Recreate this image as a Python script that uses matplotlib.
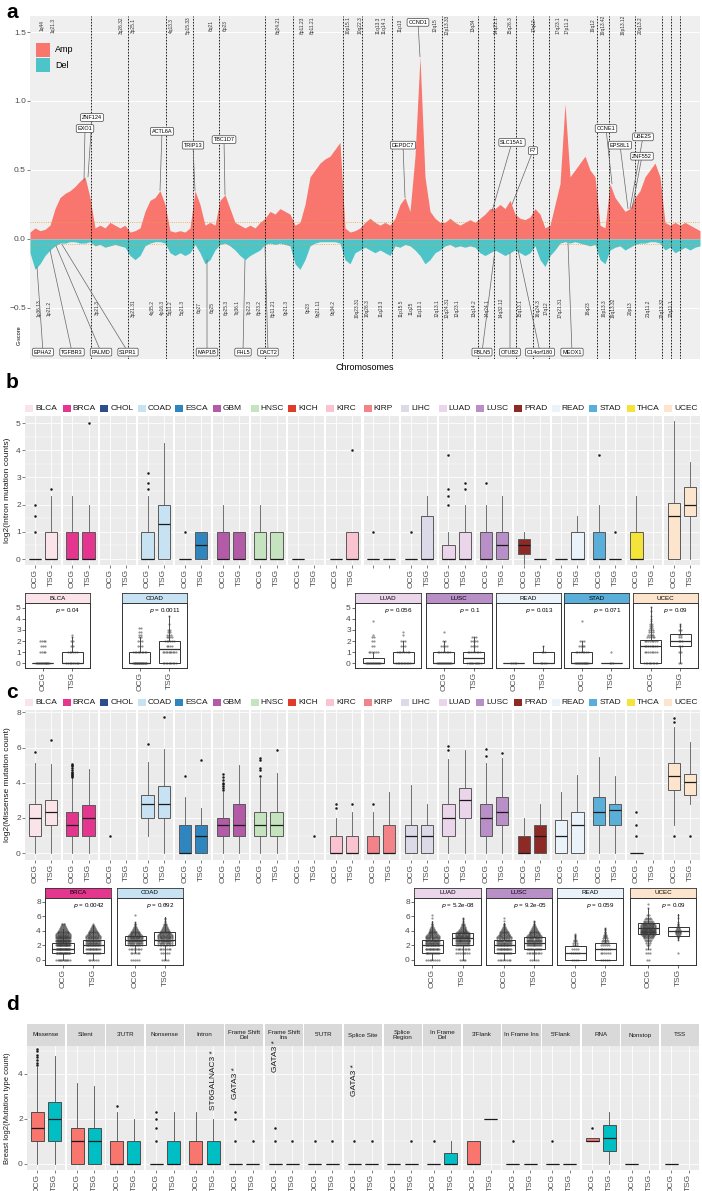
import numpy as np
import matplotlib.pyplot as plt
from matplotlib.patches import Rectangle

plt.rcParams['font.family'] = ['Liberation Sans', 'DejaVu Sans']
plt.rcParams['axes.linewidth'] = 0.6

W, H = 702, 1191

# ---------------- panel a : G-score profile (genome bins, 5 units each) ----------------
genome_start = 30
bin_step = 5
chrom_edges = [91, 128, 166, 193, 219, 265, 293, 343, 362, 392, 442, 478, 494, 516,
               533, 549, 597, 609, 635, 662, 671, 680]
amp_gscore = [0.05, 0.08, 0.06, 0.07, 0.10, 0.22, 0.30, 0.33, 0.35, 0.38, 0.42, 0.45, 0.30,
              0.08, 0.10, 0.08, 0.12, 0.10, 0.08, 0.10,
              0.05, 0.06, 0.08, 0.20, 0.28, 0.30, 0.35, 0.25,
              0.06, 0.05, 0.06, 0.05, 0.08,
              0.35, 0.25, 0.10, 0.12, 0.10,
              0.28, 0.32, 0.22, 0.12, 0.10, 0.08, 0.10, 0.08, 0.12,
              0.15, 0.20, 0.18, 0.22, 0.20, 0.18,
              0.10, 0.12, 0.25, 0.45, 0.50, 0.55, 0.58, 0.60, 0.65, 0.70,
              0.08, 0.05, 0.06, 0.08,
              0.12, 0.15, 0.12, 0.10, 0.12, 0.10,
              0.15, 0.25, 0.30, 0.20, 0.60, 1.32, 0.45, 0.20, 0.15, 0.12,
              0.12, 0.15, 0.12, 0.10, 0.12, 0.14, 0.12,
              0.15, 0.18, 0.22,
              0.22, 0.25, 0.22, 0.28, 0.18,
              0.15, 0.14, 0.16,
              0.22, 0.18, 0.08,
              0.10, 0.25, 0.40, 0.98, 0.45, 0.50, 0.55, 0.60, 0.50, 0.45,
              0.10, 0.08,
              0.40, 0.30, 0.25, 0.20, 0.22,
              0.30, 0.35, 0.45, 0.50, 0.55, 0.45,
              0.12, 0.10, 0.12, 0.10, 0.12, 0.10, 0.08, 0.06]
del_gscore = [-0.10, -0.22, -0.18, -0.12, -0.08, -0.05, -0.03, -0.03, -0.02, -0.02, -0.03, -0.03, -0.02,
              -0.05, -0.04, -0.06, -0.05, -0.04, -0.05, -0.06,
              -0.12, -0.15, -0.12, -0.05, -0.03, -0.02, -0.02, -0.03,
              -0.10, -0.12, -0.10, -0.12, -0.10,
              -0.04, -0.10, -0.18, -0.15, -0.08,
              -0.04, -0.03, -0.05, -0.08, -0.12, -0.15, -0.12, -0.10, -0.08,
              -0.04, -0.03, -0.04, -0.03, -0.04, -0.05,
              -0.18, -0.22, -0.15, -0.05, -0.03, -0.02, -0.02, -0.02, -0.02, -0.03,
              -0.15, -0.18, -0.10, -0.08,
              -0.06, -0.08, -0.10, -0.08, -0.10, -0.12,
              -0.05, -0.06, -0.04, -0.05, -0.08, -0.12, -0.18, -0.15, -0.10, -0.08,
              -0.05, -0.04, -0.06, -0.05, -0.06, -0.05, -0.06,
              -0.10, -0.12, -0.10,
              -0.08, -0.10, -0.12, -0.10, -0.08,
              -0.10, -0.12, -0.10,
              -0.05, -0.15, -0.20,
              -0.12, -0.08, -0.03, -0.02, -0.03, -0.02, -0.03, -0.04, -0.05, -0.04,
              -0.15, -0.18,
              -0.08, -0.06, -0.05, -0.08, -0.06,
              -0.04, -0.03, -0.03, -0.02, -0.02, -0.03,
              -0.08, -0.06, -0.10, -0.08, -0.06, -0.08, -0.06, -0.05]

amp_bands = ['1q44', '1q21.3', '3q26.32', '3p25.1', '4q13.3', '5p15.33', '6q21', '6p23',
             '8q24.21', '8p11.23', '8p11.21', '10p15.1', '10q22.3', '11q13.3', '11q14.1',
             '11p13', '12q15', '12p13.33', '13q34', '14q21.1', '15q26.3', '17q12', '17q23.1',
             '17p11.2', '19q12', '19q13.42', '19p13.12', '20q13.2']
amp_band_x = [42, 53, 121, 133, 171, 188, 211, 225, 278, 302, 312, 348, 360, 378, 384,
              400, 435, 447, 473, 496, 510, 534, 558, 567, 593, 603, 623, 640]
del_bands = ['1p36.13', '1p21.2', '3p21.3', '3p21.31', '4q35.2', '4p16.3', '5q11.2', '5q21.3',
             '6q27', '6q25', '6p25.3', '7q36.1', '7p22.3', '8p23.2', '8p11.21', '9p21.3', '9p23',
             '9q21.11', '9q34.2', '10q23.31', '10q26.3', '11q23.3', '11p15.5', '11q25', '11q13.1',
             '12q13.1', '12q24.31', '12q23.1', '13q14.2', '14q24.1', '14q32.12', '15q13.1',
             '16q24.3', '17q12', '17q21.31', '18q23', '19p13.3', '19q13.32', '20p13', '21q11.2',
             '22q13.32', '22q11.1']
del_band_x = [39, 49, 97, 133, 152, 162, 170, 182, 199, 212, 226, 237, 249, 259, 273, 286, 308,
              318, 333, 357, 367, 381, 401, 411, 420, 437, 447, 457, 474, 487, 501, 520, 538,
              546, 560, 588, 604, 613, 630, 648, 662, 671]

amp_genes = ['ZNF124', 'EXO1', 'ACTL6A', 'TRIP13', 'TBC1D7', 'DEPDC7', 'CCND1', 'SLC15A1',
             'F7', 'CCNE1', 'EPS8L1', 'UBE2S', 'ZNF552']
amp_gene_lx = [92, 85, 162, 193, 224, 403, 418, 512, 533, 606, 620, 643, 642]
amp_gene_ly = [0.88, 0.80, 0.78, 0.68, 0.72, 0.68, 1.57, 0.70, 0.64, 0.80, 0.68, 0.74, 0.60]
amp_gene_tx = [88, 84, 160, 195, 225, 405, 420, 492, 512, 612, 628, 630, 632]
amp_gene_ty = [0.45, 0.42, 0.35, 0.35, 0.32, 0.30, 1.32, 0.20, 0.25, 0.40, 0.22, 0.22, 0.22]
del_genes = ['EPHA2', 'TGFBR3', 'PALMD', 'S1PR1', 'MAP1B', 'FHL5', 'DACT2', 'FBLN5', 'OTUB2',
             'C14orf180', 'MEOX1']
del_gene_lx = [43, 72, 101, 128, 207, 243, 268, 482, 510, 540, 572]
del_gene_tx = [37, 50, 56, 62, 207, 245, 265, 495, 510, 518, 568]
del_gene_ty = [-0.20, -0.08, -0.05, -0.04, -0.15, -0.15, -0.05, -0.08, -0.10, -0.08, -0.03]

# ---------------- panels b / c : cancers ----------------
cancers = ['BLCA', 'BRCA', 'CHOL', 'COAD', 'ESCA', 'GBM', 'HNSC', 'KICH', 'KIRC', 'KIRP',
           'LIHC', 'LUAD', 'LUSC', 'PRAD', 'READ', 'STAD', 'THCA', 'UCEC']
cancer_colors = ['#FBE3EA', '#E4358F', '#2D4E8A', '#C7E3F3', '#2F86BF', '#B45BA8', '#C6E3BF',
                 '#E13B2C', '#F9C4CF', '#F18389', '#DCDAE9', '#EBD5EB', '#B88FC7', '#8E2A25',
                 '#EAF3F9', '#5AAFDA', '#F4E439', '#FDE5CD']

# box stats: (whisker low, q1, median, q3, whisker high)
b_ocg_box = [(0, 0, 0, 0, 0), (0, 0, 0, 1, 2.32), None, (0, 0, 0, 1, 2.32), (0, 0, 0, 0, 0),
             (0, 0, 0, 1, 2), (0, 0, 0, 1, 2), (0, 0, 0, 0, 0), (0, 0, 0, 0, 0), (0, 0, 0, 0, 0),
             (0, 0, 0, 0, 0), (0, 0, 0, 0.5, 1), (0, 0, 0, 1, 2), (-0.2, 0.2, 0.5, 0.75, 1),
             (0, 0, 0, 0, 0), (0, 0, 0, 1, 2), (0, 0, 0, 1, 2.32), (0, 0, 1.58, 2.07, 5.06)]
b_ocg_out = [[1, 1.58, 2], [], [], [2.58, 2.81, 3.17], [1], [], [], [], [], [1], [1],
             [2, 2.32, 2.58, 3.81], [2.81], [], [], [3.81], [], []]
b_tsg_box = [(0, 0, 0, 1, 2.32), (0, 0, 0, 1, 2), None, (0, 0, 1.29, 2, 4.25), (0, 0, 0.5, 1, 1),
             (0, 0, 0, 1, 1), (0, 0, 0, 1, 1), None, (0, 0, 0, 1, 1), (0, 0, 0, 0, 0),
             (0, 0, 0, 1.58, 2.32), (0, 0, 0, 1, 2), (0, 0, 0.5, 1, 2.32), (0, 0, 0, 0, 0),
             (0, 0, 0, 1, 1.58), (0, 0, 0, 0, 0), None, (0, 1.58, 2, 2.64, 3.58)]
b_tsg_out = [[2.58], [5], [], [], [], [], [], [], [4], [], [], [2.58, 2.81], [], [], [], [1], [], []]

c_ocg_box = [(0, 1, 2, 2.81, 5.1), (0, 1, 1.58, 2.32, 4.25), None, (1, 2, 2.81, 3.32, 5.2),
             (0, 0, 0, 1.58, 3.17), (0, 1, 1.58, 2, 3.46), (0, 1, 1.58, 2.32, 4.25), None,
             (0, 0, 0, 1, 2), (0, 0, 0, 1, 2.32), (0, 0, 1, 1.58, 3.9), (0, 1, 2, 2.81, 5.35),
             (0, 1, 2, 2.81, 5.1), (0, 0, 0, 1, 2), (0, 0, 1, 1.9, 3.46), (0, 1.58, 2.32, 3.17, 5.46),
             (0, 0, 0, 0, 0), (1.58, 3.58, 4.39, 5.1, 7.2)]
c_ocg_out = [[5.75], [4.32, 4.39, 4.46, 4.52, 4.58, 4.64, 4.75, 4.86, 4.95, 5.04, 5.09], [1], [6.2],
             [4.39], [3.58, 3.7, 3.81, 3.91, 4, 4.17, 4.32, 4.5], [4.39, 4.75, 4.86, 5.3, 5.43], [],
             [2.58, 2.81], [2.81], [], [5.86, 6.1], [5.55, 5.95], [], [], [], [1, 1.58, 2.32],
             [1, 7.46, 7.7]]
c_tsg_box = [(0, 1.58, 2.32, 3, 5.05), (0, 1, 2, 2.75, 4.8), None, (0, 2, 2.81, 3.81, 5.9),
             (0, 0, 1, 1.58, 2.58), (0, 1, 1.58, 2.81, 5), (0, 1, 1.58, 2.32, 4.58), None,
             (0, 0, 0, 1, 2.32), (0, 0, 0, 1.58, 3.46), (0, 0, 1, 1.58, 2.81), (0, 2, 3, 3.7, 5.86),
             (0, 1.58, 2.32, 3.17, 5.43), (0, 0, 1, 1.58, 2.81), (0, 0, 1.58, 2.32, 4.46),
             (0, 1.58, 2.46, 2.81, 4.39), None, (2.81, 3.32, 4.04, 4.52, 6.3)]
c_tsg_out = [[6.46], [], [], [7.75], [5.3], [], [5.86], [1], [2.81], [], [], [], [5.7], [], [], [],
             [], [1]]

# inset points: counts of samples at each log2 level
b_ins_names = ['BLCA', 'COAD', 'LUAD', 'LUSC', 'READ', 'STAD', 'UCEC']
b_ins_p = ['0.04', '0.0011', '0.056', '0.1', '0.013', '0.071', '0.09']
b_levels = [0, 1, 1.58, 2, 2.32, 2.58, 2.81, 3, 3.17, 3.32, 3.58, 3.81, 4, 4.25, 4.7, 5.1]
b_ins_ocg_cnt = [[15, 4, 3, 4, 0, 0, 0, 0, 0, 0, 0, 0, 0, 0, 0, 0],
                 [20, 10, 3, 3, 2, 2, 2, 0, 2, 0, 0, 0, 0, 0, 0, 0],
                 [15, 6, 2, 2, 2, 1, 0, 0, 0, 0, 0, 1, 0, 0, 0, 0],
                 [15, 8, 4, 2, 0, 0, 1, 0, 0, 0, 0, 0, 0, 0, 0, 0],
                 [4, 0, 0, 0, 0, 0, 0, 0, 0, 0, 0, 0, 0, 0, 0, 0],
                 [15, 8, 4, 3, 0, 0, 0, 0, 0, 0, 0, 1, 0, 0, 0, 0],
                 [10, 8, 8, 8, 5, 4, 3, 3, 2, 2, 2, 1, 1, 1, 1, 1]]
b_ins_tsg_cnt = [[8, 6, 2, 2, 1, 1, 0, 0, 0, 0, 0, 0, 0, 0, 0, 0],
                 [10, 10, 4, 6, 4, 3, 2, 2, 0, 0, 1, 0, 0, 1, 0, 0],
                 [10, 8, 3, 3, 0, 1, 1, 0, 0, 0, 0, 0, 0, 0, 0, 0],
                 [12, 8, 4, 4, 3, 0, 0, 0, 0, 0, 0, 0, 0, 0, 0, 0],
                 [4, 3, 1, 0, 0, 0, 0, 0, 0, 0, 0, 0, 0, 0, 0, 0],
                 [3, 1, 0, 0, 0, 0, 0, 0, 0, 0, 0, 0, 0, 0, 0, 0],
                 [2, 2, 3, 3, 2, 2, 0, 2, 0, 1, 1, 0, 0, 0, 0, 0]]

c_ins_names = ['BRCA', 'COAD', 'LUAD', 'LUSC', 'READ', 'UCEC']
c_ins_p = ['0.0042', '0.092', '5.2e-08', '9.2e-05', '0.059', '0.09']
c_levels = [0, 1, 1.58, 2, 2.32, 2.58, 2.81, 3, 3.17, 3.32, 3.46, 3.58, 3.7, 3.81, 3.91, 4,
            4.17, 4.32, 4.46, 4.58, 4.7, 4.81, 4.91, 5, 5.2, 5.4, 5.6, 5.86, 6.2, 7.2, 7.7]
c_ins_ocg_cnt = [[12, 25, 30, 30, 25, 22, 20, 18, 15, 12, 10, 9, 8, 7, 6, 5, 5, 4, 4, 3, 3, 2, 2, 2, 0, 0, 0, 0, 0, 0, 0],
                 [5, 6, 8, 12, 14, 15, 15, 13, 12, 10, 8, 7, 6, 5, 4, 4, 3, 3, 2, 2, 1, 1, 1, 1, 1, 0, 0, 0, 1, 0, 0],
                 [8, 15, 18, 20, 18, 16, 14, 12, 10, 8, 7, 6, 5, 5, 4, 4, 3, 3, 2, 2, 1, 1, 1, 1, 1, 0, 0, 1, 1, 0, 0],
                 [8, 15, 18, 18, 16, 14, 12, 10, 9, 8, 7, 6, 5, 5, 4, 4, 3, 3, 2, 2, 1, 1, 1, 1, 0, 1, 0, 1, 0, 0, 0],
                 [4, 5, 4, 3, 3, 2, 2, 1, 1, 1, 1, 1, 0, 0, 0, 0, 0, 0, 0, 0, 0, 0, 0, 0, 0, 0, 0, 0, 0, 0, 0],
                 [2, 3, 3, 2, 3, 3, 4, 5, 6, 7, 8, 10, 12, 14, 15, 15, 14, 13, 12, 11, 10, 9, 8, 7, 6, 5, 4, 3, 2, 1, 1]]
c_ins_tsg_cnt = [[6, 15, 18, 20, 18, 16, 14, 12, 10, 9, 8, 7, 6, 5, 5, 4, 4, 3, 3, 2, 2, 1, 1, 0, 0, 0, 0, 0, 0, 0, 0],
                 [4, 5, 7, 10, 12, 13, 13, 12, 11, 10, 9, 8, 7, 6, 5, 5, 4, 4, 3, 3, 2, 2, 2, 1, 1, 1, 1, 1, 0, 0, 1],
                 [4, 8, 10, 14, 15, 16, 16, 15, 14, 12, 10, 9, 8, 7, 6, 5, 5, 4, 3, 3, 2, 2, 2, 1, 1, 1, 1, 1, 0, 0, 0],
                 [5, 10, 14, 16, 16, 15, 14, 12, 10, 9, 8, 7, 6, 5, 5, 4, 4, 3, 3, 2, 2, 1, 1, 1, 1, 1, 0, 0, 0, 0, 0],
                 [5, 6, 6, 5, 4, 4, 3, 3, 2, 2, 2, 1, 1, 1, 1, 0, 1, 1, 1, 0, 0, 0, 0, 0, 0, 0, 0, 0, 0, 0, 0],
                 [0, 1, 0, 0, 0, 0, 1, 1, 1, 2, 2, 3, 3, 3, 3, 3, 3, 2, 2, 2, 1, 1, 1, 1, 1, 0, 0, 1, 1, 0, 0]]

# ---------------- panel d : breast mutation types ----------------
d_types = ['Missense', 'Silent', "3'UTR", 'Nonsense', 'Intron', 'Frame Shift\nDel',
           'Frame Shift\nIns', "5'UTR", 'Splice Site', 'Splice\nRegion', 'In Frame\nDel',
           "3'Flank", 'In Frame Ins', "5'Flank", 'RNA', 'Nonstop', 'TSS']
d_ocg_box = [(0, 1, 1.58, 2.32, 4.3), (0, 0, 1, 1.58, 3.58), (0, 0, 0, 1, 2.32), (0, 0, 0, 0, 0),
             (0, 0, 0, 1, 2.32), (0, 0, 0, 0, 0), (0, 0, 0, 0, 0), (0, 0, 0, 0, 0), (0, 0, 0, 0, 0),
             (0, 0, 0, 0, 0), (0, 0, 0, 0, 0), (0, 0, 0, 1, 1), (0, 0, 0, 0, 0), (0, 0, 0, 0, 0),
             (1, 1, 1, 1.15, 1.15), (0, 0, 0, 0, 0), (0, 0, 0, 0, 0)]
d_ocg_out = [[4.39, 4.5, 4.6, 4.75, 4.86, 5.0, 5.1], [], [2.58], [1, 1.58, 2, 2.32], [], [1, 2, 2.32],
             [1, 1.58], [1], [1], [], [1], [], [1], [1], [1.58], [], []]
d_tsg_box = [(0, 1, 2, 2.75, 4.8), (0, 0, 1, 1.58, 3.46), (0, 0, 0, 1, 2), (0, 0, 0, 1, 2.32),
             (0, 0, 0, 1, 2), (0, 0, 0, 0, 0), (0, 0, 0, 0, 0), (0, 0, 0, 0, 0), (0, 0, 0, 0, 0),
             (0, 0, 0, 0, 0), (0, 0, 0, 0.5, 1), (2, 2, 2, 2, 2), (0, 0, 0, 0, 0), (0, 0, 0, 0, 0),
             (0, 0.58, 1.15, 1.75, 2.32), None, None]
d_tsg_out = [[], [], [], [], [], [1], [1], [1], [1], [1], [], [], [], [], [], [], []]
d_star_labels = ['ST6GALNAC3 *', 'GATA3 *', 'GATA3 *', 'GATA3 *']
d_star_type = [4, 5, 6, 8]
d_star_group = [2, 1, 1, 1]
d_star_y = [2.4, 2.9, 4.1, 3.0]

OCG_COL, TSG_COL = '#F8766D', '#00BFC4'
TXT = '#4D4D4D'

fig = plt.figure(figsize=(W / 100, H / 100), dpi=100)


def px_axes(x0, y0, x1, y1):
    return fig.add_axes([x0 / W, 1 - y1 / H, (x1 - x0) / W, (y1 - y0) / H])


def fig_text(x, y, s, **kw):
    fig.text(x / W, 1 - y / H, s, **kw)


def fig_rect(x, y, w, h, color):
    fig.add_artist(Rectangle((x / W, 1 - (y + h) / H), w / W, h / H, transform=fig.transFigure,
                             facecolor=color, edgecolor='none'))


def draw_box(ax, pos, st, fl, face, edge='#5A5A5A', width=0.75, mcol='#1A1A1A'):
    if st is not None:
        lo, q1, med, q3, hi = st
        ax.bxp([dict(whislo=lo, q1=q1, med=med, q3=q3, whishi=hi, fliers=fl)],
               positions=[pos], widths=width, patch_artist=True, showcaps=False,
               manage_ticks=False,
               boxprops=dict(facecolor=face, edgecolor=edge, linewidth=0.7),
               medianprops=dict(color=mcol, linewidth=0.9),
               whiskerprops=dict(color=edge, linewidth=0.6),
               flierprops=dict(marker='o', markersize=1.8, markerfacecolor='#1A1A1A',
                               markeredgecolor='none'))
    elif fl:
        ax.plot([pos] * len(fl), fl, 'o', ms=1.8, mfc='#1A1A1A', mec='none')


def gg_axes(ax, ylim, yticks, minor, first):
    ax.set_facecolor('#EBEBEB')
    ax.set_xlim(0.4, 2.6)
    ax.set_ylim(*ylim)
    ax.set_yticks(yticks)
    ax.set_yticks(minor, minor=True)
    ax.grid(True, which='major', color='white', lw=0.6)
    ax.grid(True, which='minor', axis='y', color='white', lw=0.3)
    ax.set_axisbelow(True)
    for s in ax.spines.values():
        s.set_visible(False)
    ax.set_xticks([1, 2])
    ax.tick_params(length=2, width=0.5, color=TXT, pad=1, labelsize=6, labelcolor=TXT)
    ax.tick_params(which='minor', length=0)
    if not first:
        ax.tick_params(axis='y', length=0, labelleft=False)


def facet_row(top, bot, box_o, out_o, box_t, out_t, ylim, yticks, minor, ylabel, no_xlab):
    n = len(cancers)
    gap = 2
    fw = (700 - 25 - gap * (n - 1)) / n
    for i, name in enumerate(cancers):
        x0 = 25 + i * (fw + gap)
        ax = px_axes(x0, top, x0 + fw, bot)
        gg_axes(ax, ylim, yticks, minor, i == 0)
        lab = ['', ''] if name in no_xlab else ['OCG', 'TSG']
        ax.set_xticklabels(lab, rotation=90)
        draw_box(ax, 1, box_o[i], out_o[i], cancer_colors[i])
        draw_box(ax, 2, box_t[i], out_t[i], cancer_colors[i])
        fig_rect(x0, top - 11, 8, 7, cancer_colors[i])
        fig_text(x0 + 10, top - 7.5, name, fontsize=6, va='center', color='#1A1A1A')
    fig_text(8, (top + bot) / 2, ylabel, rotation=90, fontsize=6, va='center', ha='center',
             color='#1A1A1A')


def inset(x0, x1, top, bot, name, ptxt, levels, cnt_o, cnt_t, ylim, yticks, showy, showx,
          stats_o, stats_t):
    color = cancer_colors[cancers.index(name)]
    sax = px_axes(x0, top - 10, x1, top)
    sax.set_facecolor(color)
    sax.set_xticks([])
    sax.set_yticks([])
    for s in sax.spines.values():
        s.set_color('#333333')
        s.set_linewidth(0.6)
    sax.text(0.5, 0.5, name, fontsize=4.5, ha='center', va='center', transform=sax.transAxes)
    ax = px_axes(x0, top, x1, bot)
    for s in ax.spines.values():
        s.set_color('#333333')
        s.set_linewidth(0.7)
    ax.set_xlim(0.4, 2.6)
    ax.set_ylim(*ylim)
    ax.set_yticks(yticks)
    ax.set_xticks([1, 2])
    ax.set_xticklabels(['OCG', 'TSG'] if showx else ['', ''], rotation=90)
    ax.tick_params(length=2, width=0.5, color='#333333', pad=1, labelsize=6, labelcolor=TXT)
    if not showy:
        ax.tick_params(axis='y', length=0, labelleft=False)
    if not showx:
        ax.tick_params(axis='x', length=0)
    draw_box(ax, 1, stats_o, [], 'white', edge='#333333', width=0.7, mcol='#333333')
    draw_box(ax, 2, stats_t, [], 'white', edge='#333333', width=0.7, mcol='#333333')
    for g, cnts in ((1, cnt_o), (2, cnt_t)):
        for v, n in zip(levels, cnts):
            if n == 0:
                continue
            spread = min(0.22, 0.03 * (n - 1))
            xs = g + np.linspace(-spread, spread, n)
            ax.scatter(xs, [v] * n, s=2.5, color='#3A3A3A', alpha=0.55, lw=0, zorder=3)
    ax.text(0.66, 0.95, r'$p$ = ' + ptxt, transform=ax.transAxes, fontsize=4.5,
            ha='center', va='top')


# ================= panel a =================
axa = px_axes(30, 16, 700, 359)
axa.set_facecolor('#EFEFEF')
gx = genome_start + np.arange(len(amp_gscore)) * bin_step
axa.fill_between(gx, 0, amp_gscore, color='#F8766D', lw=0, zorder=2)
axa.fill_between(gx, 0, del_gscore, color='#4DC4C8', lw=0, zorder=2)
for e in chrom_edges:
    axa.axvline(e, color='black', ls=(0, (2, 1.6)), lw=0.6, zorder=3)
axa.axhline(0.12, color='#E6A040', ls=':', lw=0.6, zorder=3)
axa.axhline(-0.04, color='#E6A040', ls=':', lw=0.6, zorder=3)
axa.set_xlim(30, 700)
axa.set_ylim(-0.87, 1.616)
axa.set_yticks([-0.5, 0, 0.5, 1.0, 1.5])
axa.set_yticklabels(['\u22120.5', '0.0', '0.5', '1.0', '1.5'])
axa.set_xticks([])
axa.grid(axis='y', color='white', lw=0.7)
axa.set_axisbelow(True)
for s in axa.spines.values():
    s.set_visible(False)
axa.tick_params(axis='y', length=2, width=0.5, color=TXT, labelsize=6, labelcolor=TXT, pad=1)

for b, x in zip(amp_bands, amp_band_x):
    axa.text(x, 1.55, b, rotation=90, fontsize=3.5, ha='center', va='center', color='#333333',
             zorder=4)
for b, x in zip(del_bands, del_band_x):
    axa.text(x, -0.5, b, rotation=90, fontsize=3.5, ha='center', va='center', color='#333333',
             zorder=4)

gbox = dict(boxstyle='round,pad=0.25', fc='white', ec='#444444', lw=0.5)
garr = dict(arrowstyle='-', color='#666666', lw=0.5, shrinkA=0, shrinkB=0)
for g, lx, ly, tx, ty in zip(amp_genes, amp_gene_lx, amp_gene_ly, amp_gene_tx, amp_gene_ty):
    axa.annotate(g, xy=(tx, ty), xytext=(lx, ly), fontsize=4, ha='center', va='center',
                 bbox=gbox, arrowprops=garr, zorder=5)
for g, lx, tx, ty in zip(del_genes, del_gene_lx, del_gene_tx, del_gene_ty):
    axa.annotate(g, xy=(tx, ty), xytext=(lx, -0.82), fontsize=4, ha='center', va='center',
                 bbox=gbox, arrowprops=garr, zorder=5)

fig_rect(36, 43, 14, 14, '#F8766D')
fig_rect(36, 58, 14, 14, '#4DC4C8')
fig_text(55, 50, 'Amp', fontsize=6.5, va='center')
fig_text(55, 65, 'Del', fontsize=6.5, va='center')
fig_text(365, 367, 'Chromosomes', fontsize=6.5, ha='center', va='center')
fig_text(19, 335, 'G-score', fontsize=4, rotation=90, ha='center', va='center')

# ================= panel b =================
facet_row(416, 565, b_ocg_box, b_ocg_out, b_tsg_box, b_tsg_out, (-0.22, 5.26),
          [0, 1, 2, 3, 4, 5], [0.5, 1.5, 2.5, 3.5, 4.5], 'log2(Intron mutation counts)', ['KIRP'])

b_ins_x = [(25, 90), (122, 187), (355, 421), (426, 492), (496, 561), (564, 629), (633, 698)]
for k, name in enumerate(b_ins_names):
    ci = cancers.index(name)
    x0, x1 = b_ins_x[k]
    inset(x0, x1, 603, 668, name, b_ins_p[k], b_levels, b_ins_ocg_cnt[k], b_ins_tsg_cnt[k],
          (-0.45, 5.45), [0, 1, 2, 3, 4, 5], name in ('BLCA', 'LUAD'), name != 'LUAD',
          b_ocg_box[ci], b_tsg_box[ci])

# ================= panel c =================
facet_row(710, 860, c_ocg_box, c_ocg_out, c_tsg_box, c_tsg_out, (-0.39, 8.14),
          [0, 2, 4, 6, 8], [1, 3, 5, 7], 'log2(Missense mutation count)', [])

c_ins_x = [(45, 111), (117, 183), (414, 481), (486, 552), (557, 623), (630, 696)]
for k, name in enumerate(c_ins_names):
    ci = cancers.index(name)
    x0, x1 = c_ins_x[k]
    inset(x0, x1, 898, 965, name, c_ins_p[k], c_levels, c_ins_ocg_cnt[k], c_ins_tsg_cnt[k],
          (-0.69, 8.55), [0, 2, 4, 6, 8], name in ('BRCA', 'LUAD'), True,
          c_ocg_box[ci], c_tsg_box[ci])

# ================= panel d =================
nd = len(d_types)
dgap = 1.5
dfw = (699 - 27 - dgap * (nd - 1)) / nd
for i, t in enumerate(d_types):
    x0 = 27 + i * (dfw + dgap)
    sax = px_axes(x0, 1024, x0 + dfw, 1046)
    sax.set_facecolor('#D9D9D9')
    sax.set_xticks([])
    sax.set_yticks([])
    for s in sax.spines.values():
        s.set_visible(False)
    sax.text(0.5, 0.5, t, fontsize=4.5, ha='center', va='center', color='#1A1A1A',
             transform=sax.transAxes, linespacing=1.1)
    ax = px_axes(x0, 1046, x0 + dfw, 1170)
    gg_axes(ax, (-0.27, 5.24), [0, 2, 4], [1, 3, 5], i == 0)
    ax.set_xticklabels(['OCG', 'TSG'], rotation=90)
    draw_box(ax, 1, d_ocg_box[i], d_ocg_out[i], OCG_COL, edge='#4D4D4D')
    draw_box(ax, 2, d_tsg_box[i], d_tsg_out[i], TSG_COL, edge='#4D4D4D')
    for lab, ti, gi, yv in zip(d_star_labels, d_star_type, d_star_group, d_star_y):
        if ti == i:
            ax.text(gi, yv, lab, rotation=90, fontsize=6, ha='center', va='bottom',
                    color='#1A1A1A')
fig_text(8, 1108, 'Breast log2(Mutation type count)', rotation=90, fontsize=5.5, ha='center',
         va='center', color='#1A1A1A')

# panel letters
for letter, y in (('a', 12), ('b', 383), ('c', 692), ('d', 1004)):
    fig_text(6, y, letter, fontsize=15, fontweight='bold', va='center')

fig.savefig('out.png', dpi=100)
